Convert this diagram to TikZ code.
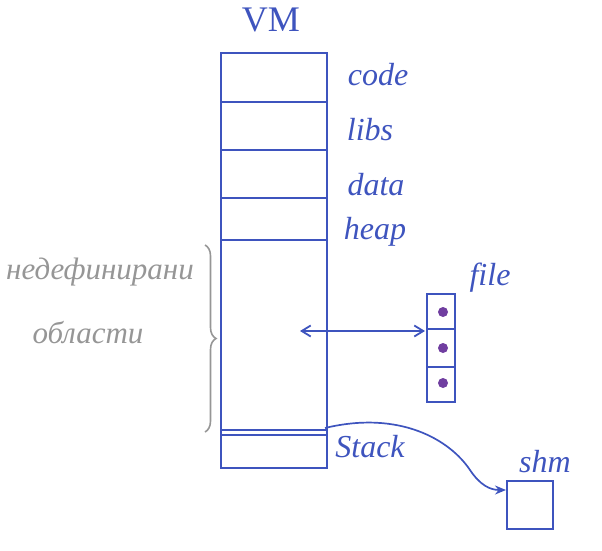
\documentclass[tikz,border=0pt]{standalone}
\usepackage{fontspec}
\setmainfont{Liberation Serif}
\usetikzlibrary{arrows.meta,decorations.pathreplacing}
\definecolor{pen}{RGB}{62,84,190}
\definecolor{pencil}{RGB}{150,150,150}
\definecolor{ink}{RGB}{112,62,160}
\tikzset{
  x=1pt, y=-1pt,
  penline/.style={draw=pen, line width=2.2pt},
  lbl/.style={text=pen, font=\itshape\fontsize{32}{34}\selectfont, inner sep=0pt},
  greylbl/.style={text=pencil, font=\itshape\fontsize{31}{33}\selectfont, inner sep=0pt},
  dot/.style={circle, fill=ink, inner sep=0pt, minimum size=10pt},
}
\begin{document}
\begin{tikzpicture}
\useasboundingbox (0,0) rectangle (602,551);

% virtual memory column
\draw[penline] (221,53) rectangle (327,468);
\foreach \yy in {102,150,198,240,430,435}
  \draw[penline] (221,\yy) -- (327,\yy);
\node[text=pen, font=\fontsize{36}{38}\selectfont, inner sep=0pt] (vm) at (271,20) {VM};

% segment labels
\node[lbl] (code) at (378,75) {code};
\node[lbl] (libs) at (370,130) {libs};
\node[lbl] (data) at (376,185) {data};
\node[lbl] (heap) at (375,232) {heap};
\node[lbl] (stack) at (370,447) {Stack};

% undefined region
\coordinate (brtop) at (205,245);
\coordinate (brbot) at (205,432);
\draw[pencil, line width=1.6pt, decorate, decoration={brace, amplitude=11pt, mirror}]
  (brbot) -- (brtop);
\node[greylbl] (undef1) at (100,272) {недефинирани};
\node[greylbl] (undef2) at (88,333) {области};

% mapped file
\draw[penline] (427,294) rectangle (455,402);
\draw[penline] (427,329) -- (455,329);
\draw[penline] (427,367) -- (455,367);
\node[dot] (d1) at (443,312) {};
\node[dot] (d2) at (443,348) {};
\node[dot] (d3) at (443,383) {};
\node[lbl] (file) at (490,278) {file};
\coordinate (mapstart) at (300,331);
\coordinate (mapend) at (425,331);
\draw[penline, line width=1.8pt, {Straight Barb[length=9pt,width=11pt]}-{Straight Barb[length=9pt,width=11pt]}]
  (mapstart) -- (mapend);

% shared memory
\draw[penline] (507,481) rectangle (553,529);
\coordinate (shmin) at (506,490);
\node[lbl] (shm) at (545,462) {shm};
\coordinate (stackout) at (325,428);
\draw[draw=pen, line width=1.7pt, -{Stealth[length=11pt,width=9pt]}]
  (stackout) .. controls (400,410) and (450,440) .. (470,470)
  .. controls (480,485) and (490,490) .. (shmin);
\end{tikzpicture}
\end{document}
